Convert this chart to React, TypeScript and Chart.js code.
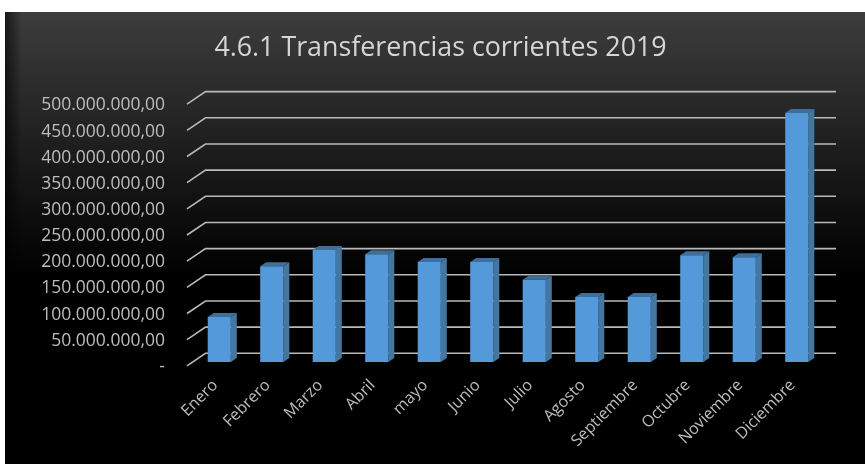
import React, { useEffect, useRef } from "react";
import { Chart, registerables } from "chart.js";

Chart.register(...registerables);

const categories = ["Enero", "Febrero", "Marzo", "Abril", "mayo", "Junio", "Julio", "Agosto", "Septiembre", "Octubre", "Noviembre", "Diciembre"];
const transferencias = [86e6, 183e6, 214e6, 206e6, 191e6, 191e6, 157e6, 124e6, 124e6, 204e6, 200e6, 476e6];
const tickValues = [0, 50e6, 100e6, 150e6, 200e6, 250e6, 300e6, 350e6, 400e6, 450e6, 500e6];
const titleText = "4.6.1 Transferencias corrientes 2019";

const FONT = "'Open Sans', sans-serif";

const formatTick = (v: number) => {
  if (v === 0) return "-";
  return Math.round(v).toString().replace(/\B(?=(\d{3})+(?!\d))/g, ".") + ",00";
};

const backdrop = {
  id: "backdrop",
  beforeDraw(chart: any) {
    const { ctx, width, height } = chart;
    ctx.save();
    ctx.fillStyle = "#ffffff";
    ctx.fillRect(0, 0, width, height);
    const g = ctx.createLinearGradient(0, 12, 0, 275);
    g.addColorStop(0, "#3d3d3d");
    g.addColorStop(1, "#000000");
    ctx.fillStyle = g;
    ctx.fillRect(5, 12, width - 5, height - 12);
    const l = ctx.createLinearGradient(5, 0, 22, 0);
    l.addColorStop(0, "rgba(0,0,0,0.6)");
    l.addColorStop(1, "rgba(0,0,0,0)");
    ctx.fillStyle = l;
    ctx.fillRect(5, 12, 17, height - 12);
    ctx.restore();
  },
};

const floorLines = {
  id: "floorLines",
  beforeDatasetsDraw(chart: any) {
    const { ctx } = chart;
    const grid = chart.scales.yGrid;
    ctx.save();
    ctx.strokeStyle = "#b9b9b9";
    ctx.lineWidth = 1.6;
    tickValues.forEach((v: number) => {
      const y = grid.getPixelForValue(v);
      ctx.beginPath();
      ctx.moveTo(187, y + 12.5);
      ctx.lineTo(205.5, y);
      ctx.lineTo(836, y);
      ctx.stroke();
    });
    ctx.restore();
  },
};

const bar3d = {
  id: "bar3d",
  beforeDatasetsDraw(chart: any) {
    const { ctx } = chart;
    const dx = 6;
    const dy = -4;
    ctx.save();
    chart.getDatasetMeta(0).data.forEach((bar: any) => {
      const r = bar.x + bar.width / 2;
      const l = bar.x - bar.width / 2;
      ctx.fillStyle = "#44779f";
      ctx.beginPath();
      ctx.moveTo(r, bar.y);
      ctx.lineTo(r + dx, bar.y + dy);
      ctx.lineTo(r + dx, bar.base + dy);
      ctx.lineTo(r, bar.base);
      ctx.closePath();
      ctx.fill();
      ctx.fillStyle = "#3f6f98";
      ctx.beginPath();
      ctx.moveTo(l, bar.y);
      ctx.lineTo(l + dx, bar.y + dy);
      ctx.lineTo(r + dx, bar.y + dy);
      ctx.lineTo(r, bar.y);
      ctx.closePath();
      ctx.fill();
    });
    ctx.restore();
  },
};

export default function App() {
  const ref = useRef<HTMLCanvasElement>(null);

  useEffect(() => {
    document.body.style.margin = "0";
    const chart = new Chart(ref.current!, {
      type: "bar",
      data: {
        labels: categories,
        datasets: [
          {
            data: transferencias,
            backgroundColor: "#5499da",
            categoryPercentage: 1,
            barPercentage: 0.44,
            yAxisID: "y",
          },
        ],
      },
      plugins: [backdrop, floorLines, bar3d],
      options: {
        responsive: false,
        animation: false,
        devicePixelRatio: 1,
        layout: { padding: { left: 17, right: 1, top: 0, bottom: 0 } },
        plugins: {
          legend: { display: false },
          tooltip: { enabled: false },
          title: {
            display: true,
            text: titleText,
            color: "#d6d6d6",
            font: { family: FONT, size: 26.8, weight: "normal" },
            padding: { top: 31.9, bottom: 27.6 },
          },
        },
        scales: {
          x: {
            grid: { display: false, drawTicks: false },
            border: { display: false },
            afterFit: (s: any) => {
              s.height = 97;
            },
            ticks: {
              color: "#bdbdbd",
              font: { family: FONT, size: 16 },
              autoSkip: false,
              minRotation: 45,
              maxRotation: 45,
              padding: 9,
              labelOffset: -4,
            },
          },
          y: { display: false, min: -9.6e6, max: 516.6e6 },
          yGrid: {
            position: "right",
            min: -26.2e6,
            max: 500e6,
            grid: { display: false, drawTicks: false },
            border: { display: false },
            ticks: { display: false },
            afterFit: (s: any) => {
              s.width = 41;
            },
          },
          yTicks: {
            position: "left",
            min: 0,
            max: 526.2e6,
            grid: { display: false, drawTicks: false },
            border: { display: false },
            afterFit: (s: any) => {
              s.width = 176;
            },
            afterBuildTicks: (s: any) => {
              s.ticks = tickValues.map((value) => ({ value }));
            },
            ticks: {
              autoSkip: false,
              color: "#bdbdbd",
              font: { family: FONT, size: 17.5 },
              padding: 28,
              callback: (v: any) => formatTick(Number(v)),
            },
          },
        },
      },
    } as any);
    return () => chart.destroy();
  }, []);

  return (
    <div style={{ position: "fixed", inset: 0, background: "#fff", overflow: "hidden" }}>
      <canvas ref={ref} width={865} height={464} style={{ display: "block", filter: "blur(0.6px)" }} />
    </div>
  );
}
